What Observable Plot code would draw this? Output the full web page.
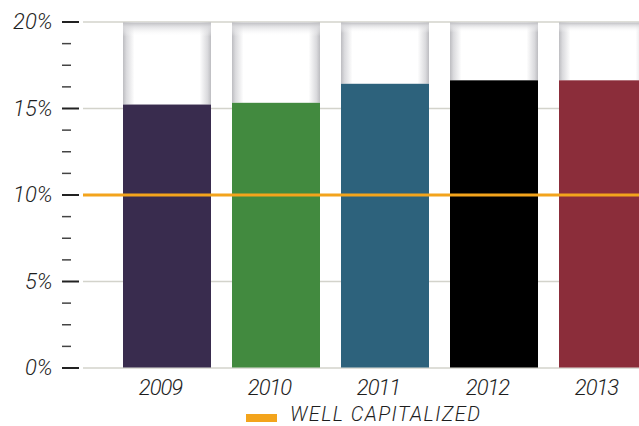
<!DOCTYPE html>
<html>
<head>
<meta charset="utf-8">
<script src="https://cdn.jsdelivr.net/npm/d3@7"></script>
<script src="https://cdn.jsdelivr.net/npm/@observablehq/plot@0.6"></script>
<style>
  html, body { margin: 0; padding: 0; background: #fff; overflow: hidden; }
  #chart svg { display: block; overflow: hidden; }
  #chart svg text { font-weight: 300; }
  #chart svg g[aria-label="x-axis tick label"] text { letter-spacing: -1px; }
  #legend { position: relative; width: 639px; height: 26px; font-family: Roboto, "DejaVu Sans", sans-serif; }
  #legend .swatch { position: absolute; left: 246px; top: 14px; width: 31px; height: 8px; background: #f3a41c; }
  #legend .label { position: absolute; left: 290px; top: 2.5px; font-size: 20px; font-weight: 300; font-style: italic; color: #1e1e1e; line-height: 23.4px; letter-spacing: 1.4px; white-space: nowrap; }
</style>
</head>
<body>
<div id="chart"></div>
<div id="legend"><div class="swatch"></div><div class="label"></div></div>
<script>
// ---- data ----
const years = ["2009", "2010", "2011", "2012", "2013"];
const ratios = [15.2, 15.3, 16.4, 16.6, 16.6];
const barColors = ["#392c4e", "#428a3f", "#2d627c", "#000000", "#8b2d3a"];
const yMax = 20;
const wellCapitalized = 10;
const majorTicks = [0, 5, 10, 15, 20];
const minorTicks = [1.25, 2.5, 3.75, 6.25, 7.5, 8.75, 11.25, 12.5, 13.75, 16.25, 17.5, 18.75];
const gridTicks = [0, 5, 15, 20];
const legendLabel = "WELL CAPITALIZED";

const table = years.map((year, i) => ({year, value: ratios[i], max: yMax, color: barColors[i]}));

const font = "Roboto, 'DejaVu Sans', sans-serif";

const plot = Plot.plot({
  width: 639,
  height: 400,
  marginLeft: 79,
  marginRight: 0,
  marginTop: 21.5,
  marginBottom: 32.5,
  style: {fontFamily: font, background: "#fff"},
  x: {type: "band", domain: years, range: [122, 647.2], paddingInner: 0.195, paddingOuter: 0},
  y: {domain: [0, yMax], range: [367.5, 21.5]},
  marks: [
    Plot.ruleY(gridTicks, {stroke: "#d3d3cb", strokeWidth: 1.3, insetLeft: 4}),
    // remaining (empty) part of each bar, with inner shadow
    Plot.barY(table, {x: "year", y1: "value", y2: "max", fill: "url(#shadeH)", insetTop: 1}),
    Plot.barY(table, {x: "year", y1: "value", y2: "max", fill: "url(#shadeV)", insetTop: 1}),
    // actual ratio
    Plot.barY(table, {x: "year", y1: 0, y2: "value", fill: "color"}),
    Plot.ruleY([wellCapitalized], {stroke: "#f3a41c", strokeWidth: 3, insetLeft: 4}),
    Plot.axisY(majorTicks, {
      tickSize: 17, tickPadding: 10, stroke: "#222", strokeWidth: 2,
      tickFormat: d => d + "%", fontSize: 22, fontStyle: "italic", fill: "#1e1e1e", label: null
    }),
    Plot.axisY(minorTicks, {
      tickSize: 9, dx: -8, stroke: "#444", strokeWidth: 1.5,
      tickFormat: () => "", label: null
    }),
    Plot.axisX({
      tickSize: 0, tickPadding: 11, dx: -7,
      fontSize: 22, fontStyle: "italic", fill: "#1e1e1e", label: null
    })
  ]
});

// gradients for the inner shadow of the empty part of the bars
const svgNS = "http://www.w3.org/2000/svg";
const defs = document.createElementNS(svgNS, "defs");
defs.innerHTML = `
  <linearGradient id="shadeH" x1="0" y1="0" x2="1" y2="0">
    <stop offset="0" stop-color="#bdbdc1"/>
    <stop offset="0.04" stop-color="#dadadd"/>
    <stop offset="0.13" stop-color="#ffffff"/>
    <stop offset="0.87" stop-color="#ffffff"/>
    <stop offset="0.96" stop-color="#dadadd"/>
    <stop offset="1" stop-color="#bdbdc1"/>
  </linearGradient>
  <linearGradient id="shadeV" x1="0" y1="0" x2="0" y2="1">
    <stop offset="0" stop-color="#bdbdc1" stop-opacity="1"/>
    <stop offset="0.05" stop-color="#dadadd" stop-opacity="0.8"/>
    <stop offset="0.17" stop-color="#ffffff" stop-opacity="0"/>
    <stop offset="1" stop-color="#ffffff" stop-opacity="0"/>
  </linearGradient>`;
plot.insertBefore(defs, plot.firstChild);

document.getElementById("chart").appendChild(plot);
document.querySelector("#legend .label").textContent = legendLabel;
</script>
</body>
</html>
